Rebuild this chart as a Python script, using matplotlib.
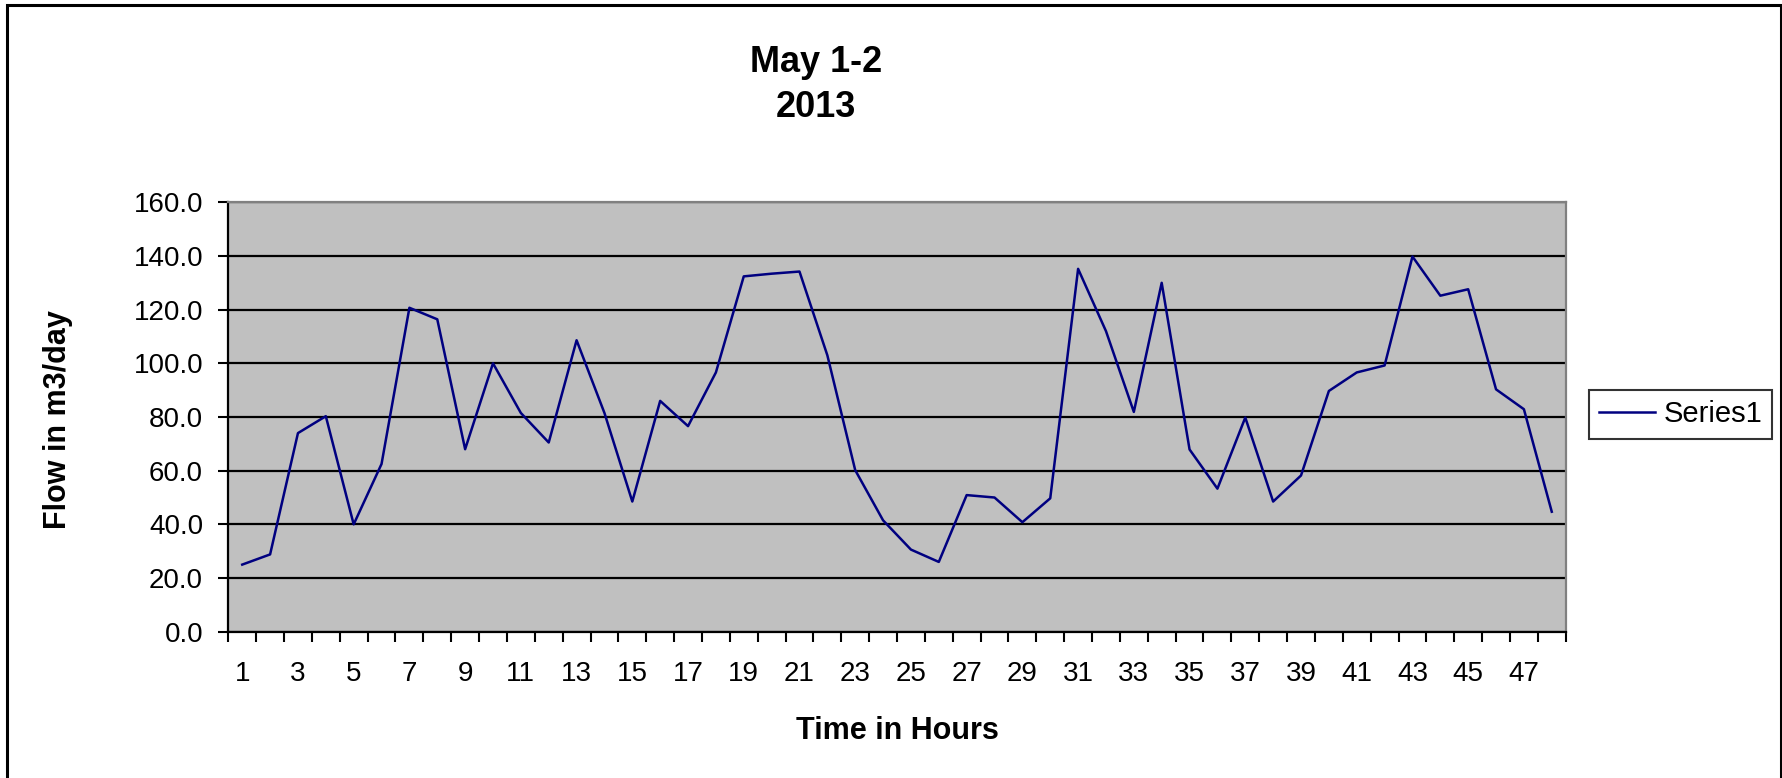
import matplotlib
matplotlib.use("Agg")
import matplotlib.pyplot as plt
import matplotlib.patches as mpatches
import numpy as np

plt.rcParams['font.family'] = ['Liberation Sans', 'DejaVu Sans']

# hourly flow, May 1-2 2013
hours = list(range(1, 49))
flow = [25.0, 28.8, 74.0, 80.3, 40.0, 62.5, 120.7, 116.4, 68.0, 100.0,
        81.5, 70.5, 108.6, 81.5, 48.5, 86.0, 76.6, 96.6, 132.4, 133.4,
        134.2, 103.0, 60.2, 41.5, 30.6, 26.0, 50.9, 50.0, 40.8, 49.7,
        135.2, 112.0, 81.9, 130.0, 67.9, 53.3, 79.8, 48.5, 58.2, 89.7,
        96.6, 99.2, 139.8, 125.2, 127.6, 90.3, 82.9, 44.7]
y_ticks = [0, 20, 40, 60, 80, 100, 120, 140, 160]
x_labels = [str(h) for h in hours[::2]]

W, H = 1783, 778
fig = plt.figure(figsize=(W / 100, H / 100), dpi=100)

# plot area in pixels
left, right, top, bottom = 228.3, 1565.7, 202.3, 631.7
ax = fig.add_axes([left / W, 1 - bottom / H, (right - left) / W, (bottom - top) / H])
ax.set_facecolor('#C0C0C0')

ax.plot(hours, flow, color='#000080', lw=1.8, label='Series1', zorder=3)

ax.set_xlim(0.5, 48.5)
ax.set_ylim(0, 160)
ax.set_yticks(y_ticks)
ax.set_yticklabels([f"{v:.1f}" for v in y_ticks], fontsize=20)
ax.yaxis.grid(True, color='black', lw=1.6)
ax.set_axisbelow(True)

# ticks between categories, labels on every other category
ax.set_xticks(np.arange(0.5, 49, 1))
ax.set_xticklabels([])
ax.set_xticks(hours[::2], minor=True)
ax.set_xticklabels(x_labels, minor=True, fontsize=20)
ax.tick_params(axis='x', which='major', direction='out', length=7.2, width=1.5, color='black')
ax.tick_params(axis='x', which='minor', length=0, pad=21)
ax.tick_params(axis='y', direction='out', length=7.2, width=1.5, pad=11)

for s in ['left', 'bottom']:
    ax.spines[s].set_color('black')
    ax.spines[s].set_linewidth(1.6)
for s in ['top', 'right']:
    ax.spines[s].set_color('#808080')
    ax.spines[s].set_linewidth(1.6)

# titles and axis labels
fig.text(816 / W, 1 - 72 / H, 'May 1-2', ha='center', va='baseline',
         fontsize=26, fontweight='bold')
fig.text(816 / W, 1 - 117 / H, '2013', ha='center', va='baseline',
         fontsize=26, fontweight='bold')
fig.text(897 / W, 1 - 739 / H, 'Time in Hours', ha='center', va='baseline',
         fontsize=22, fontweight='bold')
fig.text(58 / W, 1 - 420 / H, 'Flow in m3/day', ha='center', va='center',
         rotation=90, fontsize=22, fontweight='bold')

leg = fig.legend(loc='center left', bbox_to_anchor=(1589 / W, 1 - 414.5 / H),
                 fontsize=21, frameon=True, fancybox=False, borderaxespad=0,
                 handlelength=1.9, handletextpad=0.3, borderpad=0.35)
leg.get_frame().set_edgecolor('black')
leg.get_frame().set_linewidth(1.5)

# outer chart border
fig.patches.append(mpatches.Rectangle((7 / W, -0.02), (1781 - 7) / W, (H - 5) / H + 0.02,
                                      transform=fig.transFigure, fill=False,
                                      edgecolor='black', lw=2.2))

fig.savefig('out.png', dpi=100)
